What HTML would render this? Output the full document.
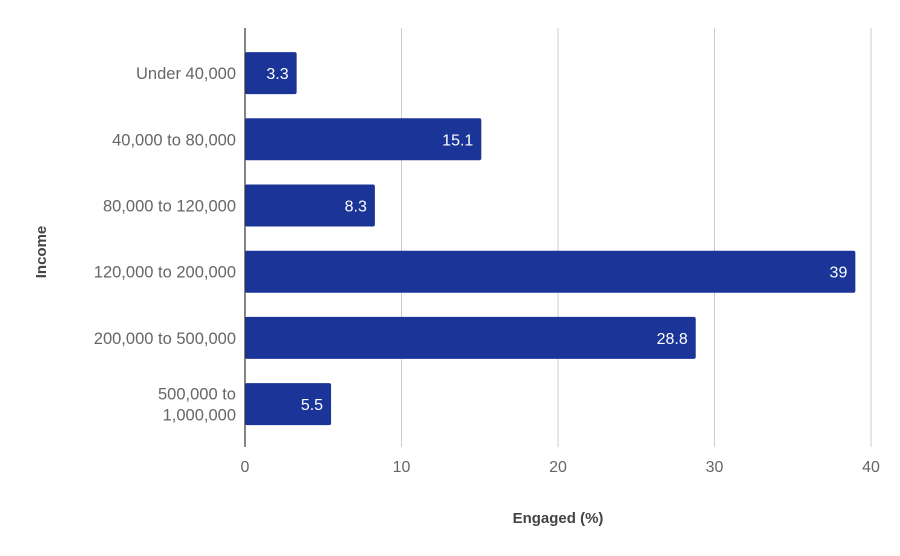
<!DOCTYPE html>
<html><head><meta charset="utf-8"><style>
body{margin:0;background:#fff;}
svg{display:block;font-family:"Liberation Sans",sans-serif;}
</style></head><body>
<svg id="c" width="900" height="556"></svg>
<script>
const categories=["Under 40,000","40,000 to 80,000","80,000 to 120,000","120,000 to 200,000","200,000 to 500,000","500,000 to|1,000,000"];
const values=[3.3,15.1,8.3,39,28.8,5.5];
const valueLabels=["3.3","15.1","8.3","39","28.8","5.5"];
const ticks=[0,10,20,30,40];
const NS="http://www.w3.org/2000/svg";
const svgRoot=document.getElementById('c');
const x0=245,pxPer=15.65,plotTop=40,band=66.2,barH=42;
const xs=v=>x0+v*pxPer;
function el(t,a,txt){const e=document.createElementNS(NS,t);for(const k in a)e.setAttribute(k,a[k]);if(txt!==undefined)e.textContent=txt;svgRoot.appendChild(e);return e;}
ticks.forEach(t=>{
  if(t>0){const g=el('line',{x1:xs(t),x2:xs(t),y1:28,y2:447,stroke:'#ccc','stroke-width':1});
  
  }
  const l=el('text',{x:xs(t),y:472,'text-anchor':'middle','font-size':16,fill:'#666'},t);
  
  
});
categories.forEach((c,i)=>{
  const cy=plotTop+band*i+band/2;
  const r=el('rect',{x:x0,y:cy-barH/2,width:xs(values[i])-x0,height:barH,fill:'#1b3497',rx:2});
  
  
  const v=el('text',{x:xs(values[i])-8,y:cy+6,'text-anchor':'end','font-size':16,fill:'#fff'},valueLabels[i]);
  
  
  const parts=c.split('|');
  parts.forEach((p,j)=>{
    const t=el('text',{x:236,y:cy+6+(j-(parts.length-1)/2)*21,'text-anchor':'end','font-size':16.5,fill:'#666'},p);
    
    
  });
});
const ax=el('line',{x1:x0,x2:x0,y1:28,y2:447,stroke:'#333','stroke-width':1.2});


const xt=el('text',{x:558,y:523,'text-anchor':'middle','font-size':15,'font-weight':'bold',fill:'#444'},'Engaged (%)');


const yt=el('text',{x:46,y:252,'text-anchor':'middle','font-size':15,'font-weight':'bold',fill:'#444',transform:'rotate(-90 46 252)'},'Income');


</script>
</body></html>
